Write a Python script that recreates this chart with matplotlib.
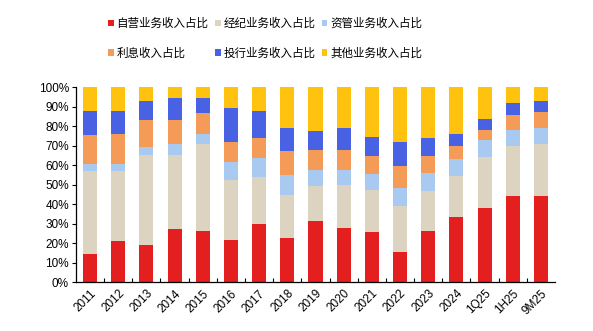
import matplotlib.pyplot as plt
import numpy as np

plt.rcParams['font.family'] = ['Noto Sans CJK SC', 'DejaVu Sans']

periods = ['2011', '2012', '2013', '2014', '2015', '2016', '2017', '2018', '2019',
           '2020', '2021', '2022', '2023', '2024', '1Q25', '1H25', '9M25']

# 各业务收入占比 (%)
proprietary = [14.6, 20.9, 19.2, 27.4, 26.2, 21.8, 30.0, 22.8, 31.2, 27.8, 25.4, 15.4, 26.2, 33.4, 38.1, 44.1, 44.1]
brokerage = [42.5, 36.2, 46.0, 37.8, 44.5, 30.5, 24.0, 21.8, 18.0, 21.9, 21.8, 23.5, 20.6, 21.0, 25.9, 25.7, 26.7]
asset_mgmt = [3.4, 3.4, 4.3, 5.5, 5.3, 9.1, 9.8, 10.3, 8.3, 7.8, 8.2, 9.1, 9.3, 8.7, 8.6, 8.2, 8.4]
interest = [15.0, 15.3, 13.7, 12.5, 10.6, 10.6, 10.3, 12.5, 10.3, 10.3, 9.4, 11.5, 8.6, 6.9, 5.4, 7.8, 7.8]
ib = [12.0, 11.7, 9.8, 11.1, 7.7, 17.5, 13.4, 11.8, 9.9, 11.1, 9.5, 12.2, 9.1, 5.8, 5.7, 6.0, 6.0]
other = [12.5, 12.5, 7.0, 5.7, 5.7, 10.5, 12.5, 20.8, 22.3, 21.1, 25.7, 28.3, 26.2, 24.2, 16.3, 8.2, 7.0]

series = [proprietary, brokerage, asset_mgmt, interest, ib, other]
labels = ['自营业务收入占比', '经纪业务收入占比', '资管业务收入占比',
          '利息收入占比', '投行业务收入占比', '其他业务收入占比']
colors = ['#E31F1F', '#DCD4C1', '#A9CAF0', '#F59B58', '#4862E3', '#FFC20E']

fig = plt.figure(figsize=(5.93, 3.31), dpi=100)
ax = fig.add_axes([0.128, 0.148, 0.808, 0.589])

x = np.arange(len(periods))
bottom = np.zeros(len(periods))
handles = []
for vals, lab, col in zip(series, labels, colors):
    vals = np.array(vals)
    b = ax.bar(x, vals, 0.5, bottom=bottom, color=col, label=lab, linewidth=0)
    handles.append(b)
    bottom += vals

ax.set_xlim(-0.5, len(periods) - 0.5)
ax.set_ylim(0, 100)
ax.set_yticks(np.arange(0, 101, 10))
ax.set_yticklabels([f'{v}%' for v in range(0, 101, 10)], fontsize=8.5,
                   family=['Liberation Sans', 'DejaVu Sans'])
ax.set_xticks(x)
ax.set_xticklabels(periods, rotation=45, ha='right', rotation_mode='anchor', fontsize=8.5,
                   family=['Liberation Sans', 'DejaVu Sans'])
ax.tick_params(axis='x', length=0, pad=4)
ax.set_xticks(np.arange(0.5, len(periods) - 0.5, 1), minor=True)
ax.tick_params(axis='x', which='minor', direction='in', length=3, width=0.8)
ax.tick_params(axis='y', length=3, width=0.8, pad=2)
for s in ['top', 'right']:
    ax.spines[s].set_visible(False)
for s in ['left', 'bottom']:
    ax.spines[s].set_linewidth(0.9)

# legend is filled row by row in the original
order = [0, 3, 1, 4, 2, 5]
fig.legend([handles[i] for i in order], [labels[i] for i in order],
           loc='upper center', bbox_to_anchor=(0.447, 0.98), ncol=3,
           frameon=False, fontsize=8.3, handlelength=0.5, handleheight=0.5,
           handletextpad=0.25, columnspacing=0.55, labelspacing=1.45)

fig.savefig('out.png', dpi=100)
